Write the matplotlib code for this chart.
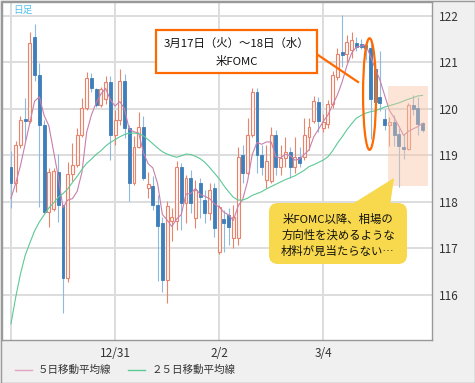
import matplotlib
matplotlib.use("Agg")
import matplotlib.pyplot as plt
import matplotlib.transforms as mtransforms
from matplotlib.patches import Rectangle, Ellipse, FancyBboxPatch, Polygon
from matplotlib.lines import Line2D
import numpy as np

plt.rcParams['font.family'] = ['Noto Sans CJK JP', 'DejaVu Sans']

# daily USD/JPY candles, Dec 2014 - early Apr 2015
opens = [118.75, 118.40, 119.23, 119.78, 119.73, 121.55, 120.73, 119.66, 117.78, 117.85,
         118.64, 117.94, 116.37, 118.59, 118.80, 119.44, 120.01, 120.66, 120.42, 120.09,
         120.22, 120.59, 119.44, 119.76, 120.61, 119.58, 118.40, 119.19, 119.62, 118.30,
         118.35, 117.94, 117.54, 116.31, 117.60, 117.58, 118.76, 117.97, 118.51, 117.65,
         118.40, 118.05, 117.76, 118.29, 116.93, 117.63, 117.72, 117.22, 117.22, 119.01,
         118.62, 119.44, 120.37, 119.01, 118.47, 118.44, 119.44, 118.76, 118.94, 119.08,
         118.76, 118.97, 118.97, 119.40, 119.73, 120.14, 119.60, 119.68, 120.11, 120.69,
         121.22, 121.19, 121.27, 121.41, 121.40, 121.38, 121.30, 120.85, 120.25, 119.79,
         119.66, 119.72, 119.47, 119.19, 119.14, 120.08, 120.03, 119.70]
highs = [119.10, 119.30, 119.85, 120.23, 121.66, 121.82, 120.98, 119.76, 118.72, 118.72,
         119.03, 117.94, 118.86, 119.26, 119.58, 120.23, 120.80, 120.77, 120.44, 120.48,
         120.70, 120.70, 119.97, 120.86, 120.76, 119.66, 119.41, 119.94, 119.84, 118.65,
         118.55, 118.15, 117.68, 118.03, 117.86, 118.87, 118.83, 118.58, 118.69, 118.47,
         118.51, 118.26, 118.40, 118.40, 117.94, 117.83, 117.86, 117.94, 119.18, 119.23,
         119.80, 120.44, 120.44, 119.23, 119.23, 119.62, 119.55, 119.23, 119.40, 119.19,
         119.40, 119.19, 119.80, 119.80, 120.28, 120.25, 119.90, 120.20, 120.82, 121.30,
         122.02, 121.60, 121.65, 121.55, 121.50, 121.45, 121.48, 120.95, 121.25, 120.00,
         119.83, 119.86, 119.58, 119.47, 120.12, 120.30, 120.26, 119.72]
lows = [117.86, 118.22, 119.15, 119.33, 119.70, 120.60, 117.90, 117.76, 117.46, 117.80,
        117.56, 115.62, 116.27, 118.45, 118.76, 119.40, 119.98, 120.37, 120.05, 120.05,
        120.10, 118.90, 119.23, 119.66, 119.37, 118.01, 118.37, 119.15, 118.47, 118.08,
        117.83, 116.29, 116.06, 115.82, 117.15, 117.40, 117.40, 117.54, 117.76, 117.43,
        117.65, 117.54, 117.62, 117.24, 116.88, 116.93, 117.08, 117.00, 117.08, 118.40,
        118.58, 119.40, 118.62, 118.58, 118.30, 118.40, 118.58, 118.58, 118.76, 118.51,
        118.62, 118.76, 118.90, 119.12, 119.70, 119.51, 119.50, 119.60, 120.02, 120.62,
        120.90, 121.00, 121.10, 121.25, 121.28, 121.05, 119.36, 119.90, 119.95, 119.55,
        119.21, 119.21, 118.32, 118.93, 119.11, 119.86, 119.43, 119.50]
closes = [118.40, 119.23, 119.76, 119.74, 121.41, 120.73, 119.66, 117.78, 118.64, 118.66,
          117.94, 116.37, 118.59, 118.80, 119.44, 120.01, 120.66, 120.44, 120.09, 120.42,
          120.59, 119.44, 119.76, 120.61, 119.58, 118.40, 119.19, 119.62, 118.51, 118.38,
          117.94, 117.49, 116.31, 117.92, 117.68, 118.76, 117.97, 118.51, 117.97, 118.26,
          118.11, 117.76, 118.26, 117.43, 117.90, 117.54, 117.47, 117.68, 118.97, 118.62,
          119.44, 120.37, 119.01, 118.76, 118.87, 119.44, 118.76, 118.94, 119.08, 118.76,
          118.97, 118.83, 119.44, 119.62, 120.16, 119.73, 119.72, 120.11, 120.73, 121.19,
          121.17, 121.45, 121.48, 121.34, 121.33, 121.30, 120.22, 120.15, 120.12, 119.65,
          119.72, 119.43, 119.21, 119.14, 120.08, 120.00, 119.68, 119.54]

ma5 = [118.08, 118.40, 118.78, 119.25, 119.71, 120.17, 120.26, 119.86, 119.64, 119.09,
       118.54, 117.88, 118.04, 118.07, 118.23, 118.64, 119.50, 119.87, 120.13, 120.32,
       120.44, 120.20, 120.06, 120.16, 120.00, 119.56, 119.51, 119.48, 119.06, 118.82,
       118.73, 118.39, 117.73, 117.61, 117.47, 117.63, 117.73, 118.17, 118.18, 118.29,
       118.16, 118.12, 118.07, 117.96, 117.89, 117.78, 117.72, 117.60, 117.91, 118.06,
       118.44, 119.02, 119.28, 119.24, 119.29, 119.29, 118.97, 118.95, 119.02, 119.00,
       118.90, 118.92, 119.02, 119.12, 119.40, 119.56, 119.73, 119.87, 120.09, 120.30,
       120.58, 120.93, 121.20, 121.33, 121.35, 121.38, 121.13, 120.87, 120.62, 120.29,
       119.97, 119.81, 119.63, 119.43, 119.52, 119.57, 119.62, 119.69]
ma25 = [115.38, 115.95, 116.45, 116.85, 117.12, 117.38, 117.57, 117.72, 117.87, 117.98,
        118.10, 118.18, 118.28, 118.42, 118.55, 118.70, 118.83, 118.92, 119.02, 119.10,
        119.20, 119.28, 119.34, 119.40, 119.45, 119.48, 119.48, 119.47, 119.42, 119.34,
        119.25, 119.16, 119.08, 119.03, 118.99, 118.96, 118.99, 119.03, 119.02, 118.98,
        118.93, 118.85, 118.74, 118.62, 118.50, 118.35, 118.22, 118.10, 118.04, 118.04,
        118.08, 118.14, 118.18, 118.22, 118.28, 118.33, 118.38, 118.43, 118.48, 118.52,
        118.56, 118.62, 118.68, 118.76, 118.80, 118.85, 118.90, 118.97, 119.10, 119.26,
        119.40, 119.55, 119.68, 119.80, 119.86, 119.91, 119.94, 119.96, 120.00, 120.04,
        120.07, 120.10, 120.13, 120.17, 120.21, 120.24, 120.28, 120.29]

tick_pos = [0, 22, 44, 66]
tick_labels = ['', '12/31', '2/2', '3/4']
price_ticks = [116, 117, 118, 119, 120, 121, 122]

W, H = 475, 383
fig = plt.figure(figsize=(W / 100, H / 100), dpi=100, facecolor='#f0f0f0')
# helper: pixel coords measured from the top-left corner
px = mtransforms.Affine2D().scale(1 / W, -1 / H).translate(0, 1) + fig.transFigure

ax = fig.add_axes([2 / W, 1 - 340 / H, 430 / W, 338 / H])
ax.set_facecolor('white')

o = np.array(opens)
h = np.array(highs)
l = np.array(lows)
c = np.array(closes)
x = np.arange(len(c))
up = c >= o

red = '#e8846c'
blue = '#3d7ebb'
blue_wick = '#8fb9dd'

ax.vlines(x[up], l[up], h[up], color=red, lw=0.8, zorder=2)
ax.vlines(x[~up], l[~up], h[~up], color=blue_wick, lw=0.8, zorder=2)
body = np.maximum(np.abs(c - o), 0.03)
bottom = np.minimum(o, c)
ax.bar(x[up], body[up], bottom=bottom[up], width=0.62, facecolor='#fff8f5',
       edgecolor=red, lw=0.8, zorder=3)
ax.bar(x[~up], body[~up], bottom=bottom[~up], width=0.62, facecolor=blue,
       edgecolor=blue, lw=0.6, zorder=3)

ax.plot(x, ma5, color='#c97fac', lw=0.8, zorder=4)
ax.plot(x, ma25, color='#5cc995', lw=0.8, zorder=4)

ax.set_xlim(-1.9, 89.0)
ax.set_ylim(115.03, 122.30)
ax.set_xticks(tick_pos)
ax.set_xticklabels(tick_labels)
ax.set_yticks(price_ticks)
ax.yaxis.tick_right()
ax.tick_params(length=0, labelsize=8.5, colors='#333333')
ax.tick_params(axis='x', pad=5)
ax.tick_params(axis='y', pad=5)
ax.grid(True, color='#dddddd', lw=1.4, zorder=0)
ax.set_axisbelow(True)
for sp in ax.spines.values():
    sp.set_color('#999999')
    sp.set_linewidth(1.0)

# post-FOMC range shading and FOMC ellipse
ax.add_patch(Rectangle((79.7, 118.34), 8.5, 2.15, facecolor='#f9c5a6',
                       alpha=0.45, edgecolor='none', zorder=5))
ax.add_patch(Ellipse((75.8, 120.32), 2.75, 2.40, fill=False, edgecolor='#ff6a00',
                     lw=1.6, zorder=6))

# top-left label
fig.text(13 / W, 1 - 10 / H, '日足', color='#55c3ef', fontsize=7, va='center', ha='left')

# FOMC box with leader line
fig.add_artist(Line2D([318, 358], [55, 82], transform=px, color='#ff6a00', lw=1.6))
fig.add_artist(Rectangle((156, 30), 161, 43, transform=px, facecolor='white',
                         edgecolor='#ff6a00', lw=1.6))
fig.text(236.5 / W, 1 - 43 / H, '3月17日（火）～18日（水）', fontsize=8.2,
         ha='center', va='center', color='#111111')
fig.text(236.5 / W, 1 - 61 / H, '米FOMC', fontsize=8.2, ha='center', va='center',
         color='#111111')

# yellow call-out
yellow = '#f8d84c'
fig.add_artist(Polygon([(349, 206), (390, 206), (394, 178)], closed=True,
                       transform=px, facecolor=yellow, edgecolor='none'))
fig.add_artist(FancyBboxPatch((269, 203), 138, 61,
                              boxstyle='round,pad=0,rounding_size=9',
                              transform=px, facecolor=yellow, edgecolor='none'))
for txt, yy in [('米FOMC以降、相場の', 219), ('方向性を決めるような', 235),
                ('材料が見当たらない…', 251)]:
    fig.text(338 / W, 1 - yy / H, txt, fontsize=8.2, ha='center', va='center',
             color='#111111')

# legend
fig.add_artist(Line2D([15, 32], [370, 370], transform=px, color='#e4a3c2', lw=1.0))
fig.text(38 / W, 1 - 370 / H, '５日移動平均線', fontsize=7.6, ha='left', va='center',
         color='#333333')
fig.add_artist(Line2D([128, 145], [370, 370], transform=px, color='#5cc995', lw=1.0))
fig.text(152 / W, 1 - 370 / H, '２５日移動平均線', fontsize=7.6, ha='left', va='center',
         color='#333333')

# outer frame
fig.add_artist(Rectangle((0.5, 0.5), W - 1, H - 1, transform=px, fill=False,
                         edgecolor='#999999', lw=1.0))

fig.savefig('out.png', dpi=100, facecolor=fig.get_facecolor())
